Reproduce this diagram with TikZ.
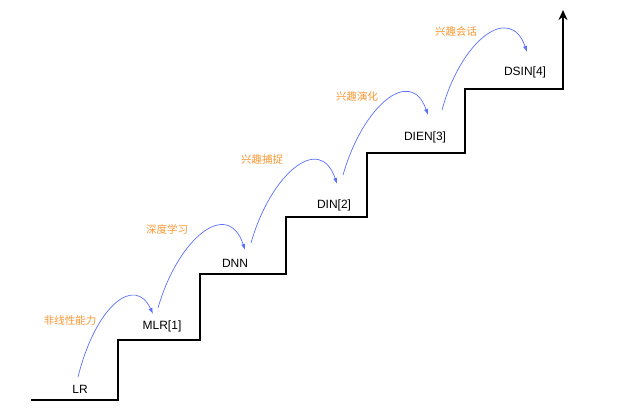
\documentclass[tikz,border=0pt]{standalone}
\usepackage{fontspec}
\setmainfont{Liberation Sans}
\newfontfamily\cjk{Noto Sans CJK SC}
\usetikzlibrary{arrows.meta}
\definecolor{stairorange}{RGB}{250,150,50}
\definecolor{curveblue}{RGB}{90,110,255}
\tikzset{
  stair/.style={line width=2.6pt, line join=miter},
  model/.style={font=\fontsize{12}{14}\selectfont, inner sep=0pt},
  idea/.style={font=\cjk\fontsize{10.5}{12}\selectfont, text=stairorange, inner sep=0pt},
  jump/.style={curveblue, line width=0.7pt, -{Latex[length=6pt,width=4pt]}}
}
\begin{document}
\begin{tikzpicture}[x=1pt,y=-1pt]
\useasboundingbox (0,0) rectangle (617,409);
% staircase
\coordinate (s0) at (31,400);
\coordinate (top) at (563,10);
\draw[stair] (s0) -- (118,400) -- (118,340) -- (200,340) -- (200,274) -- (286,274)
  -- (286,217) -- (367,217) -- (367,153) -- (465,153) -- (465,89) -- (563,89) -- (563,20);
\draw[line width=2.6pt,-{Stealth[length=10pt,width=9pt]}] (563,89) -- (top);
% model labels
\node[model] (lr) at (80,389) {LR};
\node[model] (mlr) at (162,326) {MLR[1]};
\node[model] (dnn) at (235,263) {DNN};
\node[model] (din) at (334,205) {DIN[2]};
\node[model] (dien) at (425,137) {DIEN[3]};
\node[model] (dsin) at (525,72) {DSIN[4]};
% idea labels
\node[idea] (i1) at (70,321) {非线性能力};
\node[idea] (i2) at (167,229) {深度学习};
\node[idea] (i3) at (262,160) {兴趣捕捉};
\node[idea] (i4) at (357,96) {兴趣演化};
\node[idea] (i5) at (456,32) {兴趣会话};
% arrow end points
\coordinate (a1) at (78,377);  \coordinate (b1) at (153,314);
\coordinate (a2) at (158,308); \coordinate (b2) at (245,250);
\coordinate (a3) at (251,243); \coordinate (b3) at (337,184);
\coordinate (a4) at (343,175); \coordinate (b4) at (428,115);
\coordinate (a5) at (442,110); \coordinate (b5) at (527,52);
\draw[jump] (a1) .. controls (96,305) and (135,275) .. (b1);
\draw[jump] (a2) .. controls (178,238) and (228,198) .. (b2);
\draw[jump] (a3) .. controls (271,173) and (320,133) .. (b3);
\draw[jump] (a4) .. controls (363,105) and (411,66) .. (b4);
\draw[jump] (a5) .. controls (461,40) and (510,3) .. (b5);
\end{tikzpicture}
\end{document}
